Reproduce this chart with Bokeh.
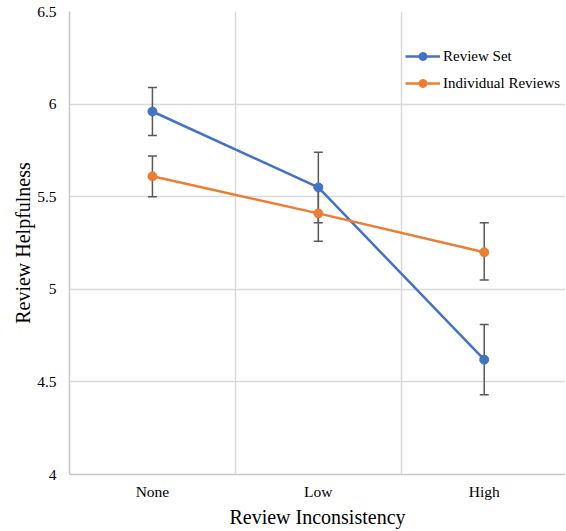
from bokeh.plotting import figure
from bokeh.models import (ColumnDataSource, Whisker, TeeHead, FixedTicker, Range1d,
                          NumeralTickFormatter, Legend, LegendItem)
from bokeh.embed import file_html
from bokeh.resources import INLINE

categories = ["None", "Low", "High"]
set_mean = [5.96, 5.55, 4.62]
set_upper = [6.09, 5.74, 4.81]
set_lower = [5.83, 5.36, 4.43]
ind_mean = [5.61, 5.41, 5.20]
ind_upper = [5.72, 5.56, 5.36]
ind_lower = [5.50, 5.26, 5.05]
y_ticks = [4, 4.5, 5, 5.5, 6, 6.5]

BLUE = "#4472C4"
ORANGE = "#ED7D31"
GRID = "#d9d9d9"
FONT = "Liberation Serif"

xpos = [i + 0.5 for i in range(len(categories))]

p = figure(width=565, height=530, output_backend="svg", toolbar_location=None,
           x_range=Range1d(0, 2.99), y_range=Range1d(4, 6.5),
           min_border_left=69, min_border_right=0, min_border_top=11, min_border_bottom=55)
p.title = None
p.outline_line_color = None
p.background_fill_color = "white"

# axes
p.xaxis.ticker = FixedTicker(ticks=xpos)
p.xaxis.major_label_overrides = {0.5: categories[0], 1.5: categories[1], 2.5: categories[2]}
p.yaxis.ticker = FixedTicker(ticks=y_ticks)
p.yaxis.formatter = NumeralTickFormatter(format="0.[0]")
for ax in (p.xaxis[0], p.yaxis[0]):
    ax.major_tick_line_color = None
    ax.minor_tick_line_color = None
    ax.major_tick_in = 0
    ax.major_tick_out = 0
    ax.axis_line_color = "#c8c8c8"
    ax.axis_line_width = 1.5
    ax.major_label_text_font = FONT
    ax.major_label_text_font_size = "15.5px"
    ax.major_label_text_color = "black"
    ax.axis_label_text_font = FONT
    ax.axis_label_text_font_size = "20px"
    ax.axis_label_text_font_style = "normal"
    ax.axis_label_text_color = "black"
p.xaxis.axis_label = "Review Inconsistency"
p.yaxis.axis_label = "Review Helpfulness"
p.xaxis.major_label_standoff = 8
p.xaxis.axis_label_standoff = 3
p.yaxis.major_label_standoff = 13
p.yaxis.axis_label_standoff = 0

p.xgrid.ticker = FixedTicker(ticks=[1, 2])
p.xgrid.grid_line_color = GRID
p.xgrid.grid_line_width = 1.5
p.ygrid.grid_line_color = GRID
p.ygrid.grid_line_width = 1.5

# error bars
for lo, hi in ((set_lower, set_upper), (ind_lower, ind_upper)):
    src = ColumnDataSource(dict(x=xpos, lower=lo, upper=hi))
    w = Whisker(source=src, base="x", lower="lower", upper="upper", dimension="height",
                line_color="#595959", line_width=1.5, level="underlay",
                upper_head=TeeHead(size=9, line_color="#595959", line_width=1.5),
                lower_head=TeeHead(size=9, line_color="#595959", line_width=1.5))
    p.add_layout(w)

src_set = ColumnDataSource(dict(x=xpos, y=set_mean))
src_ind = ColumnDataSource(dict(x=xpos, y=ind_mean))

l1 = p.line("x", "y", source=src_set, line_color=BLUE, line_width=2.5)
s1 = p.scatter("x", "y", source=src_set, size=9, fill_color=BLUE, line_color=BLUE)
l2 = p.line("x", "y", source=src_ind, line_color=ORANGE, line_width=2.5)
s2 = p.scatter("x", "y", source=src_ind, size=9, fill_color=ORANGE, line_color=ORANGE)

legend = Legend(items=[LegendItem(label="Review Set", renderers=[l1, s1]),
                       LegendItem(label="Individual Reviews", renderers=[l2, s2])],
                location=(336, 381))
legend.background_fill_alpha = 0
legend.border_line_color = None
legend.padding = 0
legend.margin = 0
legend.glyph_width = 35
legend.glyph_height = 20
legend.label_height = 20
legend.spacing = 7
legend.label_standoff = 3
legend.label_text_font = FONT
legend.label_text_font_size = "15px"
legend.label_text_color = "black"
p.add_layout(legend, "center")

open("out.html", "w").write(file_html(p, INLINE))
